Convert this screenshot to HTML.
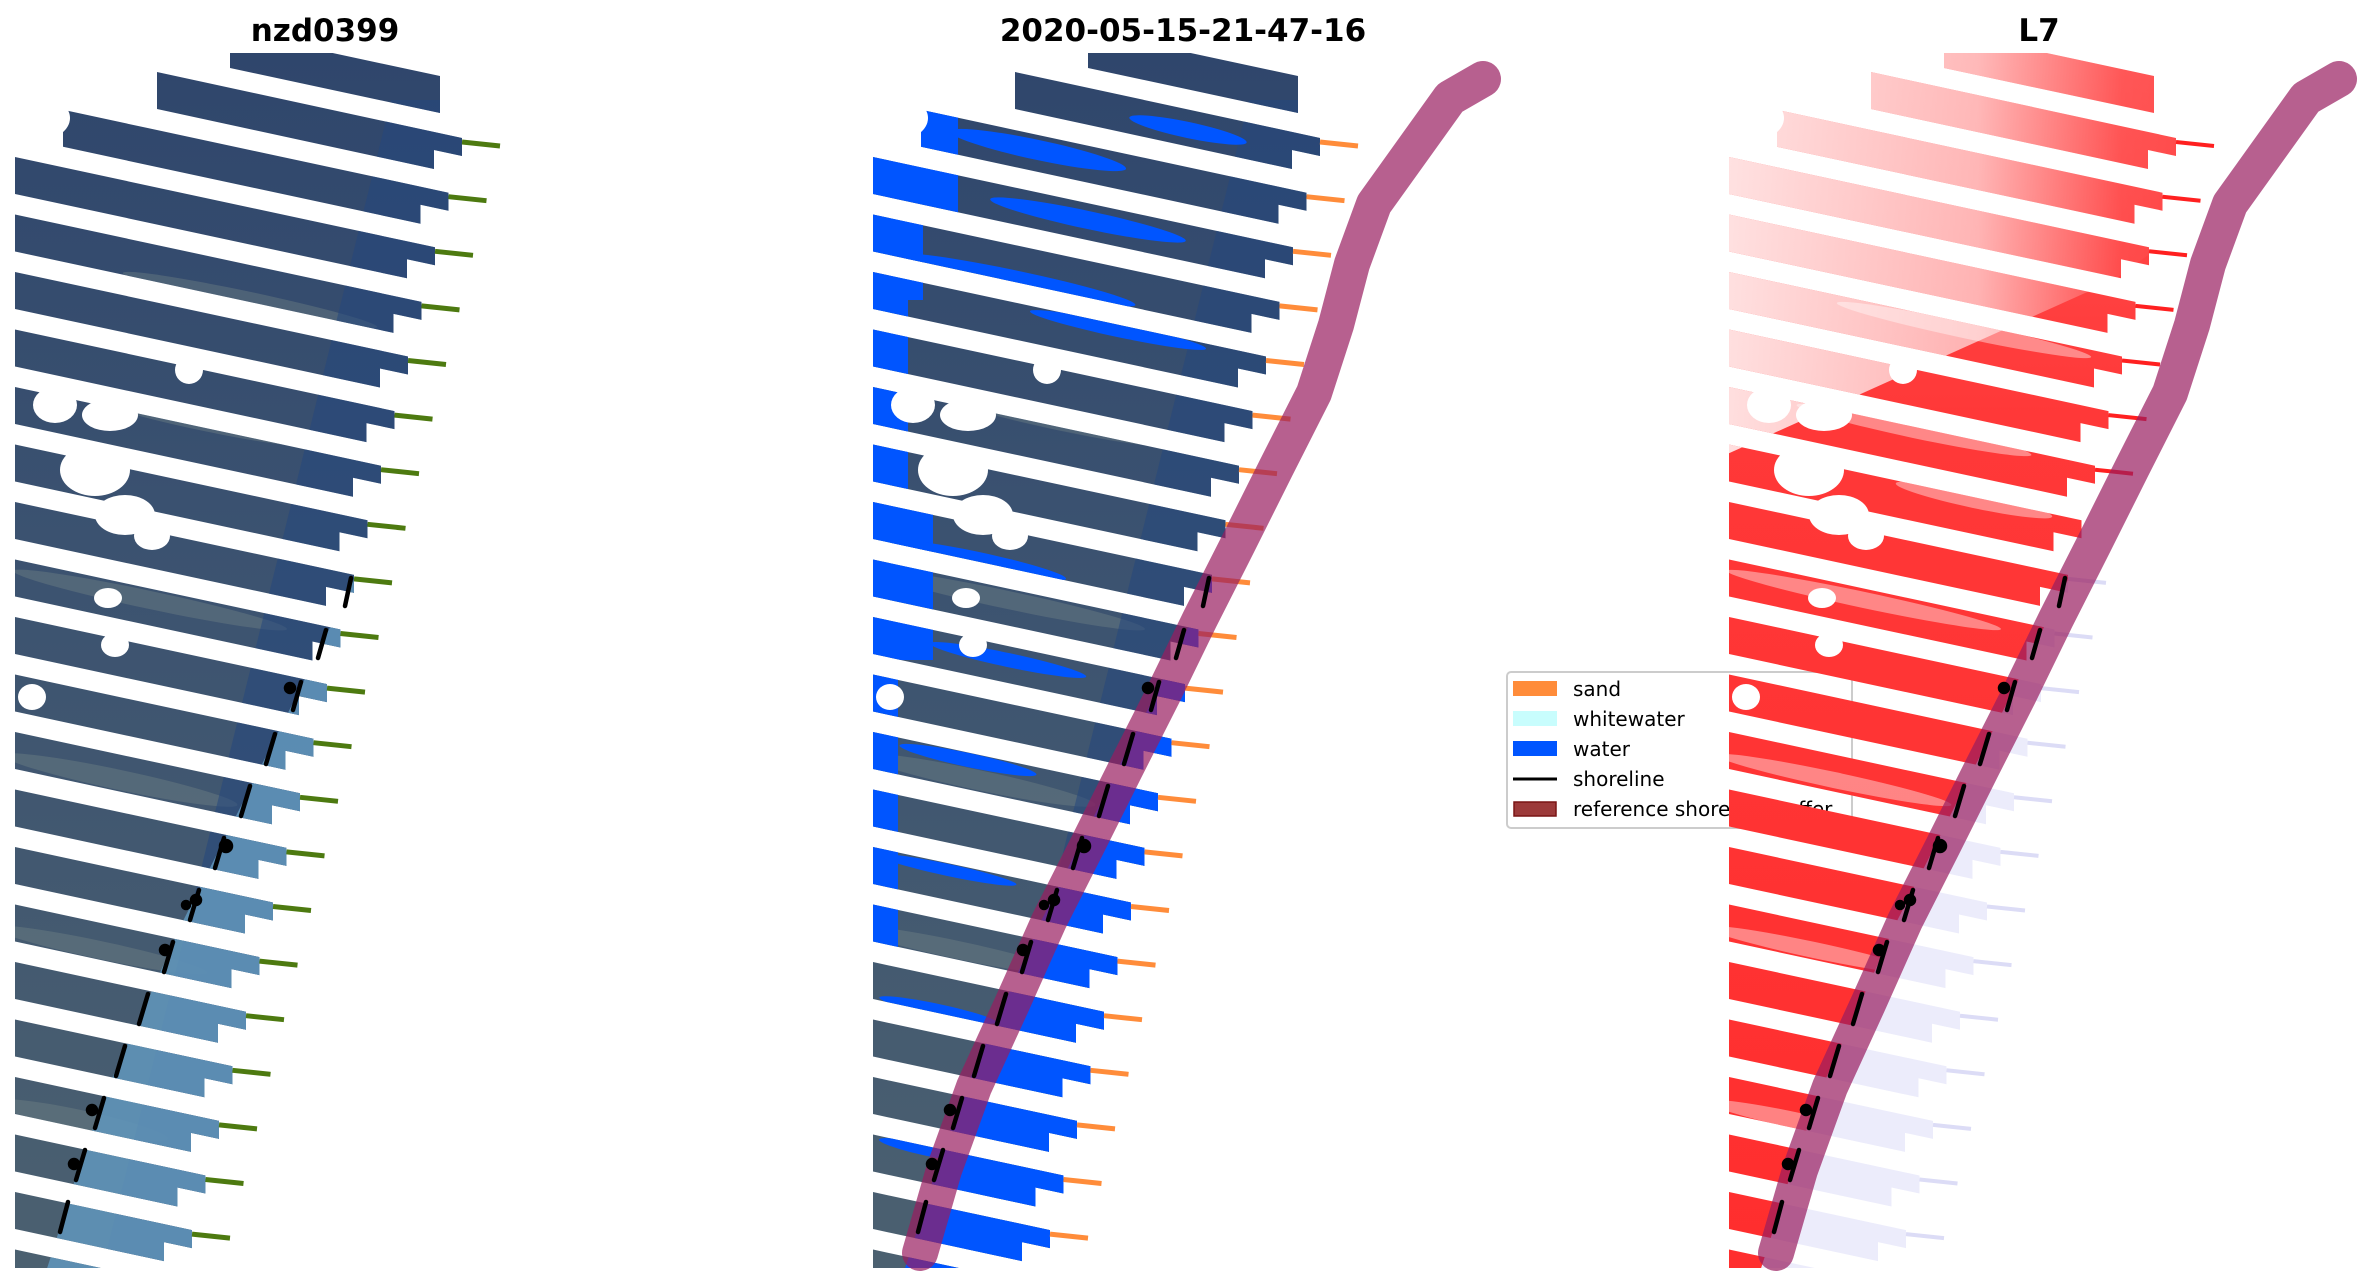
<!DOCTYPE html>
<html><head><meta charset="utf-8"><style>
html,body{margin:0;padding:0;background:#fff;}
svg{display:block;}
text{font-family:"DejaVu Sans","Liberation Sans",sans-serif;}
</style></head><body>
<svg width="2368" height="1283" viewBox="0 0 2368 1283" xmlns="http://www.w3.org/2000/svg">
<defs>
<polygon id="b" points="0,0 0,18 -28,12 -28,31 -600,-92 -600,-129"/>
<clipPath id="bands">
<polygon points="440,76 440,113 230,68 230,31"/>
<polygon points="462,138 462,156 434,150 434,169 157,109 157,72"/>
<polygon points="448.5,192.7 448.5,210.7 420.5,204.7 420.5,223.7 63,146.8 63,109.8"/>
<use href="#b" x="435" y="247.3"/>
<use href="#b" x="421.5" y="301.9"/>
<use href="#b" x="408" y="356.5"/>
<use href="#b" x="394.5" y="411.1"/>
<use href="#b" x="381" y="465.7"/>
<use href="#b" x="367.5" y="520.3"/>
<use href="#b" x="354" y="574.9"/>
<use href="#b" x="340.5" y="629.5"/>
<use href="#b" x="327" y="684.1"/>
<use href="#b" x="313.5" y="738.7"/>
<use href="#b" x="300" y="793.3"/>
<use href="#b" x="286.5" y="847.9"/>
<use href="#b" x="273" y="902.5"/>
<use href="#b" x="259.5" y="957.1"/>
<use href="#b" x="246" y="1011.7"/>
<use href="#b" x="232.5" y="1066.3"/>
<use href="#b" x="219" y="1120.9"/>
<use href="#b" x="205.5" y="1175.5"/>
<use href="#b" x="192" y="1230.1"/>
<use href="#b" x="178.5" y="1284.7"/>
</clipPath>
<clipPath id="pc"><rect x="15" y="53" width="700" height="1215"/></clipPath>
<linearGradient id="gL" x1="0" y1="53" x2="0" y2="1268" gradientUnits="userSpaceOnUse">
<stop offset="0" stop-color="#2f466c"/><stop offset="0.4" stop-color="#3b5270"/><stop offset="1" stop-color="#4b6070"/></linearGradient>
<linearGradient id="gR" x1="0" y1="53" x2="0" y2="1268" gradientUnits="userSpaceOnUse">
<stop offset="0" stop-color="#ff5050"/><stop offset="0.3" stop-color="#ff3838"/><stop offset="1" stop-color="#ff2e2e"/></linearGradient>
<linearGradient id="gW" x1="0" y1="0" x2="480" y2="0" gradientUnits="userSpaceOnUse">
<stop offset="0" stop-color="#fff" stop-opacity="0.85"/><stop offset="0.55" stop-color="#fff" stop-opacity="0.6"/><stop offset="0.85" stop-color="#fff" stop-opacity="0.05"/><stop offset="1" stop-color="#fff" stop-opacity="0"/></linearGradient>
<polygon id="water" points="617,79 584,98 546,151 508,204 486,264 470,325 448,393 410,468 372,544 334,619 297,695 259,770 221,846 183,921 146,1004 108,1087 78,1170 52,1253 40,1290 900,1290 900,0 617,0"/>
<polygon id="land" points="617,79 584,98 546,151 508,204 486,264 470,325 448,393 410,468 372,544 334,619 297,695 259,770 221,846 183,921 146,1004 108,1087 78,1170 52,1253 40,1290 0,1290 0,0 617,0"/>
<polyline id="curve" points="625,79 592,98 554,151 516,204 494,264 478,325 456,393 418,468 380,544 342,619 305,695 267,770 229,846 191,921 154,1004 116,1087 86,1170 62,1253" fill="none" stroke-linejoin="round" stroke-linecap="round"/>
<g id="clouds" fill="#fff">
<ellipse cx="40" cy="118" rx="30" ry="22"/>
<ellipse cx="189" cy="370" rx="14" ry="14"/>
<ellipse cx="55" cy="405" rx="22" ry="18"/>
<ellipse cx="110" cy="415" rx="28" ry="16"/>
<ellipse cx="95" cy="470" rx="35" ry="26"/>
<ellipse cx="125" cy="515" rx="30" ry="20"/>
<ellipse cx="152" cy="536" rx="18" ry="14"/>
<ellipse cx="115" cy="645" rx="14" ry="12"/>
<ellipse cx="32" cy="697" rx="14" ry="13"/>
<ellipse cx="108" cy="598" rx="14" ry="10"/>
</g>
<g id="marks" stroke="#000" stroke-width="4.5" stroke-linecap="round" fill="#000">
<line x1="351" y1="578" x2="345" y2="606"/>
<line x1="326" y1="630" x2="318" y2="658"/>
<line x1="301" y1="682" x2="293" y2="710"/><circle cx="290" cy="688" r="4"/>
<line x1="275" y1="734" x2="266" y2="764"/>
<line x1="250" y1="786" x2="241" y2="816"/>
<line x1="224" y1="838" x2="215" y2="868"/><circle cx="226" cy="846" r="5"/>
<line x1="199" y1="890" x2="190" y2="920"/><circle cx="196" cy="900" r="4"/><circle cx="186" cy="905" r="3"/>
<line x1="173" y1="942" x2="164" y2="972"/><circle cx="165" cy="950" r="4"/>
<line x1="148" y1="994" x2="139" y2="1024"/>
<line x1="125" y1="1046" x2="116" y2="1076"/>
<line x1="104" y1="1098" x2="95" y2="1128"/><circle cx="92" cy="1110" r="4"/>
<line x1="85" y1="1150" x2="76" y2="1180"/><circle cx="74" cy="1164" r="4"/>
<line x1="68" y1="1202" x2="60" y2="1232"/>
</g>
</defs>

<text x="325" y="41" font-size="31" font-weight="bold" text-anchor="middle">nzd0399</text>
<text x="1183" y="41" font-size="31" font-weight="bold" text-anchor="middle">2020-05-15-21-47-16</text>
<text x="2039" y="41" font-size="31" font-weight="bold" text-anchor="middle">L7</text>

<!-- LEFT PANEL -->
<g clip-path="url(#pc)">
<g clip-path="url(#bands)">
<rect x="0" y="0" width="800" height="1300" fill="url(#gL)"/>
<g fill="#7d8d8a" opacity="0.35">
<ellipse cx="200" cy="420" rx="120" ry="10" transform="rotate(12 200 420)"/>
<ellipse cx="150" cy="600" rx="140" ry="9" transform="rotate(12 150 600)"/>
<ellipse cx="120" cy="780" rx="120" ry="10" transform="rotate(12 120 780)"/>
<ellipse cx="100" cy="950" rx="110" ry="9" transform="rotate(12 100 950)"/>
<ellipse cx="80" cy="1120" rx="90" ry="10" transform="rotate(12 80 1120)"/>
<ellipse cx="250" cy="300" rx="130" ry="8" transform="rotate(12 250 300)"/>
</g>
<polygon points="391,100 480,100 186,1290 97,1290" fill="#25477e" opacity="0.55"/>
<use href="#water" fill="#5f93b8" opacity="0.9"/>
</g>
<use href="#clouds"/>
<g stroke="#4d7a10" stroke-width="5">
<line x1="462" y1="142" x2="500" y2="146"/><line x1="448.5" y1="196.7" x2="486.5" y2="200.7"/><line x1="435" y1="251.3" x2="473" y2="255.3"/><line x1="421.5" y1="305.9" x2="459.5" y2="309.9"/><line x1="408" y1="360.5" x2="446" y2="364.5"/><line x1="394.5" y1="415.1" x2="432.5" y2="419.1"/><line x1="381" y1="469.7" x2="419" y2="473.7"/><line x1="367.5" y1="524.3" x2="405.5" y2="528.3"/><line x1="354" y1="578.9" x2="392" y2="582.9"/><line x1="340.5" y1="633.5" x2="378.5" y2="637.5"/><line x1="327" y1="688.1" x2="365" y2="692.1"/><line x1="313.5" y1="742.7" x2="351.5" y2="746.7"/><line x1="300" y1="797.3" x2="338" y2="801.3"/><line x1="286.5" y1="851.9" x2="324.5" y2="855.9"/><line x1="273" y1="906.5" x2="311" y2="910.5"/><line x1="259.5" y1="961.1" x2="297.5" y2="965.1"/><line x1="246" y1="1015.7" x2="284" y2="1019.7"/><line x1="232.5" y1="1070.3" x2="270.5" y2="1074.3"/><line x1="219" y1="1124.9" x2="257" y2="1128.9"/><line x1="205.5" y1="1179.5" x2="243.5" y2="1183.5"/><line x1="192" y1="1234.1" x2="230" y2="1238.1"/>
</g>
<use href="#marks"/>
</g>

<!-- MIDDLE PANEL -->
<g transform="translate(858,0)">
<g clip-path="url(#pc)">
<g clip-path="url(#bands)">
<rect x="0" y="0" width="800" height="1300" fill="url(#gL)"/>
<g fill="#7d8d8a" opacity="0.35">
<ellipse cx="200" cy="420" rx="120" ry="10" transform="rotate(12 200 420)"/>
<ellipse cx="150" cy="600" rx="140" ry="9" transform="rotate(12 150 600)"/>
<ellipse cx="120" cy="780" rx="120" ry="10" transform="rotate(12 120 780)"/>
<ellipse cx="100" cy="950" rx="110" ry="9" transform="rotate(12 100 950)"/>
</g>
<polygon points="391,100 480,100 186,1290 97,1290" fill="#25477e" opacity="0.55"/>
<g fill="#0055ff">
<rect x="15" y="100" width="85" height="120"/>
<rect x="15" y="220" width="50" height="80"/>
<rect x="15" y="300" width="35" height="200"/>
<rect x="15" y="500" width="60" height="160"/>
<rect x="15" y="660" width="25" height="300"/>
<ellipse cx="180" cy="150" rx="90" ry="10" transform="rotate(12 180 150)"/>
<ellipse cx="230" cy="220" rx="100" ry="9" transform="rotate(12 230 220)"/>
<ellipse cx="160" cy="280" rx="120" ry="9" transform="rotate(12 160 280)"/>
<ellipse cx="260" cy="330" rx="90" ry="7" transform="rotate(12 260 330)"/>
<ellipse cx="120" cy="560" rx="90" ry="8" transform="rotate(12 120 560)"/>
<ellipse cx="150" cy="660" rx="80" ry="7" transform="rotate(12 150 660)"/>
<ellipse cx="110" cy="760" rx="70" ry="7" transform="rotate(12 110 760)"/>
<ellipse cx="90" cy="870" rx="70" ry="6" transform="rotate(12 90 870)"/>
<ellipse cx="80" cy="1010" rx="60" ry="6" transform="rotate(12 80 1010)"/>
<ellipse cx="70" cy="1150" rx="50" ry="6" transform="rotate(12 70 1150)"/>
<ellipse cx="330" cy="130" rx="60" ry="8" transform="rotate(12 330 130)"/>
</g>
<use href="#water" fill="#0055ff"/>
</g>
<use href="#clouds"/>
<g stroke="#ff8c3a" stroke-width="5">
<line x1="462" y1="142" x2="500" y2="146"/><line x1="448.5" y1="196.7" x2="486.5" y2="200.7"/><line x1="435" y1="251.3" x2="473" y2="255.3"/><line x1="421.5" y1="305.9" x2="459.5" y2="309.9"/><line x1="408" y1="360.5" x2="446" y2="364.5"/><line x1="394.5" y1="415.1" x2="432.5" y2="419.1"/><line x1="381" y1="469.7" x2="419" y2="473.7"/><line x1="367.5" y1="524.3" x2="405.5" y2="528.3"/><line x1="354" y1="578.9" x2="392" y2="582.9"/><line x1="340.5" y1="633.5" x2="378.5" y2="637.5"/><line x1="327" y1="688.1" x2="365" y2="692.1"/><line x1="313.5" y1="742.7" x2="351.5" y2="746.7"/><line x1="300" y1="797.3" x2="338" y2="801.3"/><line x1="286.5" y1="851.9" x2="324.5" y2="855.9"/><line x1="273" y1="906.5" x2="311" y2="910.5"/><line x1="259.5" y1="961.1" x2="297.5" y2="965.1"/><line x1="246" y1="1015.7" x2="284" y2="1019.7"/><line x1="232.5" y1="1070.3" x2="270.5" y2="1074.3"/><line x1="219" y1="1124.9" x2="257" y2="1128.9"/><line x1="205.5" y1="1179.5" x2="243.5" y2="1183.5"/><line x1="192" y1="1234.1" x2="230" y2="1238.1"/>
</g>
</g>
<use href="#curve" stroke="rgb(152,28,95)" stroke-opacity="0.7" stroke-width="36"/>
<use href="#marks"/>
</g>

<!-- LEGEND -->
<g>
<rect x="1507" y="672" width="345" height="156" rx="4" fill="#fff" fill-opacity="0.8" stroke="#cccccc" stroke-width="2"/>
<rect x="1513" y="681" width="44" height="15" fill="#ff8c3a"/>
<rect x="1513" y="711" width="44" height="15" fill="#c8fdfd"/>
<rect x="1513" y="741" width="44" height="15" fill="#0055ff"/>
<line x1="1513" y1="779" x2="1557" y2="779" stroke="#000" stroke-width="3"/>
<rect x="1514" y="802" width="42" height="14" fill="#9c3a3a" stroke="#7a1515" stroke-width="1.5"/>
<g font-size="20" fill="#000">
<text x="1573" y="696">sand</text>
<text x="1573" y="726">whitewater</text>
<text x="1573" y="756">water</text>
<text x="1573" y="786">shoreline</text>
<text x="1573" y="816">reference shoreline buffer</text>
</g>
</g>

<!-- RIGHT PANEL -->
<clipPath id="landc"><use href="#land"/></clipPath>
<g transform="translate(1714,0)">
<g clip-path="url(#pc)">
<g clip-path="url(#bands)">
<use href="#water" fill="#ececfb"/>
<g clip-path="url(#landc)">
<rect x="0" y="0" width="800" height="1300" fill="url(#gR)"/>
<polygon points="0,0 700,0 700,60 400,280 0,460" fill="url(#gW)"/>
<g fill="#fff" opacity="0.4">
<ellipse cx="200" cy="430" rx="120" ry="8" transform="rotate(12 200 430)"/>
<ellipse cx="150" cy="600" rx="140" ry="8" transform="rotate(12 150 600)"/>
<ellipse cx="120" cy="780" rx="120" ry="8" transform="rotate(12 120 780)"/>
<ellipse cx="100" cy="950" rx="110" ry="8" transform="rotate(12 100 950)"/>
<ellipse cx="80" cy="1120" rx="90" ry="8" transform="rotate(12 80 1120)"/>
<ellipse cx="250" cy="330" rx="130" ry="8" transform="rotate(12 250 330)"/>
<ellipse cx="260" cy="500" rx="80" ry="8" transform="rotate(12 260 500)"/>
</g>
</g>
</g>
<use href="#clouds"/>
<g stroke="#ff2020" stroke-width="4">
<line x1="462" y1="142" x2="500" y2="146"/><line x1="448.5" y1="196.7" x2="486.5" y2="200.7"/><line x1="435" y1="251.3" x2="473" y2="255.3"/><line x1="421.5" y1="305.9" x2="459.5" y2="309.9"/><line x1="408" y1="360.5" x2="446" y2="364.5"/><line x1="394.5" y1="415.1" x2="432.5" y2="419.1"/><line x1="381" y1="469.7" x2="419" y2="473.7"/>
</g>
<g stroke="#dcdcf6" stroke-width="4">
<line x1="354" y1="578.9" x2="392" y2="582.9"/><line x1="340.5" y1="633.5" x2="378.5" y2="637.5"/><line x1="327" y1="688.1" x2="365" y2="692.1"/><line x1="313.5" y1="742.7" x2="351.5" y2="746.7"/><line x1="300" y1="797.3" x2="338" y2="801.3"/><line x1="286.5" y1="851.9" x2="324.5" y2="855.9"/><line x1="273" y1="906.5" x2="311" y2="910.5"/><line x1="259.5" y1="961.1" x2="297.5" y2="965.1"/><line x1="246" y1="1015.7" x2="284" y2="1019.7"/><line x1="232.5" y1="1070.3" x2="270.5" y2="1074.3"/><line x1="219" y1="1124.9" x2="257" y2="1128.9"/><line x1="205.5" y1="1179.5" x2="243.5" y2="1183.5"/><line x1="192" y1="1234.1" x2="230" y2="1238.1"/>
</g>
</g>
<use href="#curve" stroke="rgb(152,28,95)" stroke-opacity="0.7" stroke-width="36"/>
<use href="#marks"/>
</g>
</svg>
</body></html>
